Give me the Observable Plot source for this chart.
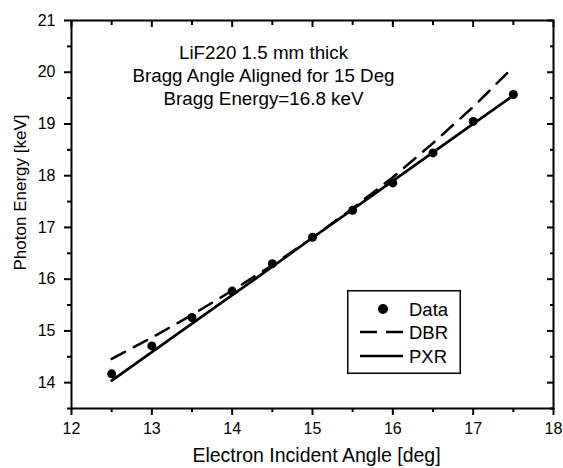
<!DOCTYPE html>
<html>
<head>
<meta charset="utf-8">
<script src="https://cdn.jsdelivr.net/npm/d3@7"></script>
<script src="https://cdn.jsdelivr.net/npm/@observablehq/plot@0.6"></script>
<style>
  body { margin: 0; background: #fff; }
  #wrap { position: relative; width: 563px; height: 468px; font-family: "Liberation Sans", Arial, sans-serif; }
  #legend { position: absolute; left: 347px; top: 290px; }
</style>
</head>
<body>
<div id="wrap"></div>
<script>
// ---- data ----
const angles = [12.5, 13, 13.5, 14, 14.5, 15, 15.5, 16, 16.5, 17, 17.5];
const dataEnergy = [14.17, 14.71, 15.26, 15.77, 16.30, 16.81, 17.33, 17.86, 18.44, 19.05, 19.57];
const dbrEnergy  = [14.46, 14.87, 15.31, 15.78, 16.27, 16.80, 17.37, 17.97, 18.63, 19.33, 20.10];
const pxrEnergy  = [14.04, 14.59, 15.14, 15.69, 16.24, 16.80, 17.35, 17.90, 18.45, 19.00, 19.55];

const seriesNames = ["Data", "DBR", "PXR"];
const xMajor = [12, 13, 14, 15, 16, 17, 18];
const xMinor = [12.5, 13.5, 14.5, 15.5, 16.5, 17.5];
const yMajor = [14, 15, 16, 17, 18, 19, 20, 21];
const yMinor = [13.5, 14.5, 15.5, 16.5, 17.5, 18.5, 19.5, 20.5];
const xTitle = "Electron Incident Angle [deg]";
const yTitle = "Photon Energy [keV]";
const annotation = ["LiF220 1.5 mm thick", "Bragg Angle Aligned for 15 Deg", "Bragg Energy=16.8 keV"];

const points = angles.map((a, i) => ({x: a, y: dataEnergy[i]}));
const dbr = angles.map((a, i) => ({x: a, y: dbrEnergy[i]}));
const pxr = angles.map((a, i) => ({x: a, y: pxrEnergy[i]}));

const chart = Plot.plot({
  width: 563,
  height: 468,
  marginLeft: 71,
  marginRight: 10,
  marginTop: 20,
  marginBottom: 60,
  style: {fontFamily: "'Liberation Sans', Arial, sans-serif", fontSize: "16px", color: "#000", background: "#fff"},
  x: {domain: [12, 18]},
  y: {domain: [13.5, 21]},
  marks: [
    Plot.frame({stroke: "#000", strokeWidth: 2}),
    // bottom axis
    Plot.axisX({ticks: xMajor, tickSize: 7, tickPadding: 7, strokeWidth: 2, fontSize: 16, label: null, tickFormat: d => d}),
    Plot.axisX({ticks: xMinor, tickSize: 4, strokeWidth: 2, text: null, label: null}),
    // top axis (inward)
    Plot.axisX({anchor: "top", ticks: xMajor, tickSize: -6, strokeWidth: 2, text: null, label: null}),
    Plot.axisX({anchor: "top", ticks: xMinor, tickSize: -4, strokeWidth: 2, text: null, label: null}),
    // left axis
    Plot.axisY({ticks: yMajor, tickSize: 7, tickPadding: 9, strokeWidth: 2, fontSize: 16, label: null, tickFormat: d => d}),
    Plot.axisY({ticks: yMinor, tickSize: 4, strokeWidth: 2, text: null, label: null}),
    // right axis (inward)
    Plot.axisY({anchor: "right", ticks: yMajor, tickSize: -7, strokeWidth: 2, text: null, label: null}),
    Plot.axisY({anchor: "right", ticks: yMinor, tickSize: -4, strokeWidth: 2, text: null, label: null}),
    // series
    Plot.line(dbr, {x: "x", y: "y", stroke: "#000", strokeWidth: 2.5, strokeDasharray: "15,10", curve: "linear"}),
    Plot.line(pxr, {x: "x", y: "y", stroke: "#000", strokeWidth: 2.7}),
    Plot.dot(points, {x: "x", y: "y", r: 4.5, fill: "#000", stroke: "none"}),
    // titles
    Plot.text([xTitle], {frameAnchor: "bottom", dx: 4, dy: 53, fontSize: 19.5, fill: "#000"}),
    Plot.text([yTitle], {frameAnchor: "left", textAnchor: "middle", dx: -51, dy: -22, rotate: -90, fontSize: 17, fill: "#000"}),
    // annotation
    Plot.text([annotation.join("\n")], {frameAnchor: "top-left", dx: 192, dy: 21.7, lineAnchor: "top", textAnchor: "middle", lineHeight: 1.24, fontSize: 18.8, fill: "#000"})
  ]
});
document.getElementById("wrap").appendChild(chart);

// ---- legend ----
const lw = 114, lh = 84;
const leg = d3.create("svg").attr("id", "legend").attr("width", lw).attr("height", lh)
  .style("font-family", "'Liberation Sans', Arial, sans-serif");
leg.append("rect").attr("x", 0.75).attr("y", 0.75).attr("width", lw - 1.5).attr("height", lh - 1.5)
  .attr("fill", "#fff").attr("stroke", "#000").attr("stroke-width", 1.5);
const rowY = [19, 42, 66];
seriesNames.forEach((name, i) => {
  const g = leg.append("g").attr("transform", `translate(0,${rowY[i]})`);
  if (name === "Data") {
    g.append("circle").attr("cx", 36).attr("cy", 0).attr("r", 5).attr("fill", "#000");
  } else {
    g.append("line").attr("x1", 13).attr("x2", 56).attr("y1", 0).attr("y2", 0)
      .attr("stroke", "#000").attr("stroke-width", 2.5)
      .attr("stroke-dasharray", name === "DBR" ? "17,9" : null);
  }
  g.append("text").attr("x", 62).attr("y", 0).attr("dy", "0.36em").attr("font-size", 18.5).attr("fill", "#000").text(name);
});
document.getElementById("wrap").appendChild(leg.node());
</script>
</body>
</html>
